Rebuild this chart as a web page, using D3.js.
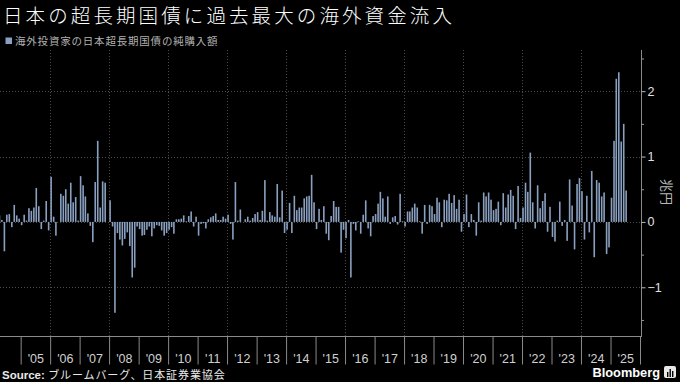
<!DOCTYPE html>
<html>
<head>
<meta charset="utf-8">
<script src="https://cdn.jsdelivr.net/npm/d3@7"></script>
<style>
  html, body { margin: 0; padding: 0; background: #000; }
  svg { display: block; }
</style>
</head>
<body>
<svg id="chart" width="680" height="382"></svg>
<script>
// ---- data: monthly net purchases of super-long JGBs by foreign investors (trillion yen)
const firstMonth = [2004, 3]; // April 2004 (month is 0-based)
const netPurchases = [
  /*2004 Apr-Dec*/ 0.1, 0.03, -0.45, 0.11, 0.12, -0.08, 0.26, 0.1, 0.05,
  /*2005*/ -0.05, 0.11, 0.02, 0.21, 0.17, 0.22, 0.52, 0.24, -0.11, 0.02, 0.32, -0.13,
  /*2006*/ 0.69, 0.08, -0.21, 0, 0.43, 0.40, 0.5, 0.28, 0.6, 0.3, 0.38, 0.02,
  /*2007*/ 0.7, 0.56, 0.39, 0.13, -0.06, -0.31, 0.61, 1.24, 0.22, 0.62, 0.6, 0,
  /*2008*/ 0.33, -0.07, -1.39, -0.17, -0.27, -0.36, -0.26, -0.16, -0.37, -0.85, -0.7, -0.07,
  /*2009*/ -0.11, -0.21, -0.2, -0.12, -0.07, -0.22, -0.1, -0.05, -0.06, -0.13, -0.21, -0.17,
  /*2010*/ -0.12, -0.08, -0.18, 0.04, 0.04, 0.05, 0.1, 0.01, 0.09, 0.16, -0.07, 0.08,
  /*2011*/ -0.21, -0.03, -0.02, -0.1, 0.04, 0.07, 0.09, 0.13, 0.03, 0.03, 0.08, 0.05,
  /*2012*/ 0.11, -0.03, -0.27, 0.61, 0.02, 0.19, 0, 0.04, 0.08, 0.02, 0.06, 0.12,
  /*2013*/ 0.15, 0.03, 0.17, 0.64, 0.02, 0.15, 0.1, 0.08, 0.58, 0.07, 0.48, -0.17,
  /*2014*/ -0.12, 0.29, -0.17, 0.4, 0.18, 0.22, 0.22, 0.36, 0.39, 0.4, 0.72, 0.3,
  /*2015*/ -0.11, 0.2, 0.03, 0.24, -0.18, -0.28, 0.09, 0.32, 0.23, 0.23, -0.47, -0.12,
  /*2016*/ -0.25, 0.03, -0.85, -0.03, -0.13, 0.01, -0.18, 0.11, 0.33, -0.1, -0.22, 0.09,
  /*2017*/ 0.12, 0.28, 0.46, 0.36, 0.08, 0.39, -0.03, 0.07, 0.09, -0.04, 0.43, 0.01,
  /*2018*/ -0.07, 0.16, 0.16, 0.22, 0.28, 0.22, 0.01, -0.18, 0.26, -0.03, 0.26, 0.24,
  /*2019*/ 0.12, 0.37, 0.3, -0.08, 0.34, 0.33, 0.43, 0.29, 0.41, 0.2, 0.34, -0.15,
  /*2020*/ 0.12, 0.42, -0.08, 0.12, 0.03, -0.21, 0.3, 0.02, 0.45, 0.39, 0.45, 0.34,
  /*2021*/ 0.18, 0.2, 0.31, -0.05, 0.44, 0.22, 0.42, 0.49, 0.4, -0.11, 0.55, 0.06,
  /*2022*/ 0.22, 0.6, 0.46, 1.06, 0.3, -0.1, 0.56, 0.21, 0.32, 0.44, -0.15, 0.23,
  /*2023*/ -0.23, -0.3, 0.02, 0.31, -0.06, 0.03, -0.29, 0.65, 0.25, -0.42, 0.58, 0.67,
  /*2024*/ 0.47, -0.27, 0.4, -0.16, 0.78, -0.54, 0.64, 0.6, 0.39, 0.45, -0.49, -0.39,
  /*2025*/ 0.37, 1.24, 2.19, 2.29, 1.23, 1.5, 0.48
];
const yearLabels = ["'05","'06","'07","'08","'09","'10","'11","'12","'13","'14","'15",
                    "'16","'17","'18","'19","'20","'21","'22","'23","'24","'25"];
const firstLabelYear = 2005;
const gridYears = [2006, 2008, 2010, 2012, 2014, 2016, 2018, 2020, 2022, 2024];
const yMajorTicks = [-1, 0, 1, 2];
const yMinorTicks = [-1.5, -0.5, 0.5, 1.5, 2.5];
const yDomain = [-1.73, 2.63];

const titleText = "日本の超長期国債に過去最大の海外資金流入";
const legendText = "海外投資家の日本超長期国債の純購入額";
const unitText = "兆円";
const sourceLabel = "Source:";
const sourceText = " ブルームバーグ、日本証券業協会";

// ---- layout
const svg = d3.select("#chart");
const W = 680, H = 382;
const plot = { left: 0, right: 640, top: 50, bottom: 335 };
const axisLineY = 336.5;
const barColor = "#8aa0c0";
const gridColor = "#4a4a4a";

svg.append("rect").attr("width", W).attr("height", H).attr("fill", "#000");

const x = d3.scaleUtc()
  .domain([new Date(Date.UTC(2004, 3, 20)), new Date(Date.UTC(2026, 0, 1))])
  .range([plot.left, plot.right]);
const y = d3.scaleLinear().domain(yDomain).range([plot.bottom, plot.top]);

const data = netPurchases.map((v, i) => ({
  date: new Date(Date.UTC(firstMonth[0], firstMonth[1] + i, 1)),
  value: v
}));

// gridlines
const grid = svg.append("g");
grid.selectAll("line.h").data(yMajorTicks).join("line")
  .attr("x1", plot.left).attr("x2", 641)
  .attr("y1", d => Math.round(y(d)) + 0.5).attr("y2", d => Math.round(y(d)) + 0.5)
  .attr("stroke", gridColor).attr("stroke-width", 1).attr("stroke-dasharray", "1,2");
grid.selectAll("line.v").data(gridYears).join("line")
  .attr("x1", d => Math.round(x(new Date(Date.UTC(d, 0, 1)))) + 0.5)
  .attr("x2", d => Math.round(x(new Date(Date.UTC(d, 0, 1)))) + 0.5)
  .attr("y1", plot.top).attr("y2", axisLineY)
  .attr("stroke", gridColor).attr("stroke-width", 1).attr("stroke-dasharray", "1,2");

// bars
const barW = 1.6;
svg.append("g").selectAll("rect").data(data).join("rect")
  .attr("x", d => x(d.date) + 0.2)
  .attr("width", barW)
  .attr("y", d => Math.min(y(d.value), y(0)))
  .attr("height", d => Math.abs(y(d.value) - y(0)))
  .attr("fill", barColor);

// x axis: baseline + year separators
svg.append("line")
  .attr("x1", 0).attr("x2", 642).attr("y1", axisLineY).attr("y2", axisLineY)
  .attr("stroke", "#8a8a8a").attr("stroke-width", 1);

const yearStarts = d3.range(firstLabelYear, firstLabelYear + yearLabels.length + 1)
  .map(yr => new Date(Date.UTC(yr, 0, 1)));
const xAxisSep = d3.axisBottom(x).tickValues(yearStarts).tickSize(28).tickFormat("").tickSizeOuter(0);
const gSep = svg.append("g").attr("transform", `translate(0,${axisLineY})`).call(xAxisSep);
gSep.select(".domain").remove();
gSep.selectAll(".tick line").attr("stroke", "#8a8a8a");

const midYears = yearLabels.map((_, i) => new Date(Date.UTC(firstLabelYear + i, 6, 2)));
const xAxisLab = d3.axisBottom(x).tickValues(midYears).tickSize(0)
  .tickFormat((d, i) => yearLabels[i]);
const gLab = svg.append("g").attr("transform", `translate(0,${axisLineY})`).call(xAxisLab);
gLab.select(".domain").remove();
gLab.selectAll(".tick text")
  .attr("y", 26.5).attr("dy", 0)
  .attr("fill", "#d0d0d0")
  .style("font-family", "'Liberation Sans', Arial, sans-serif")
  .style("font-size", "12.5px");

// right y axis
const axisX = 641.5;
svg.append("line")
  .attr("x1", axisX).attr("x2", axisX).attr("y1", plot.top).attr("y2", axisLineY)
  .attr("stroke", "#8a8a8a").attr("stroke-width", 1);
const yAxisMajor = d3.axisRight(y).tickValues(yMajorTicks).tickSize(4).tickSizeOuter(0)
  .tickFormat(d3.format("d"));
const gY = svg.append("g").attr("transform", `translate(${axisX},0)`).call(yAxisMajor);
gY.select(".domain").remove();
gY.selectAll(".tick line").attr("stroke", "#bbbbbb");
gY.selectAll(".tick text")
  .attr("x", 6)
  .attr("fill", "#e0e0e0")
  .style("font-family", "'Liberation Sans', Arial, sans-serif")
  .style("font-size", "12.5px");
const yAxisMinor = d3.axisRight(y).tickValues(yMinorTicks).tickSize(2.5).tickSizeOuter(0).tickFormat("");
const gYm = svg.append("g").attr("transform", `translate(${axisX},0)`).call(yAxisMinor);
gYm.select(".domain").remove();
gYm.selectAll(".tick line").attr("stroke", "#999");

// unit label
svg.append("text")
  .attr("transform", `translate(662,192) rotate(90)`)
  .attr("text-anchor", "middle")
  .attr("fill", "#b8b8b8")
  .style("font-family", "'Noto Sans CJK JP', sans-serif")
  .style("font-size", "13px")
  .text(unitText);

// title
svg.append("text")
  .attr("x", 3).attr("y", 22.7)
  .attr("fill", "#ffffff")
  .style("font-family", "'Noto Sans CJK JP', sans-serif")
  .style("font-size", "19.5px")
  .style("font-weight", "300")
  .style("letter-spacing", "3.1px")
  .text(titleText);

// legend
svg.append("rect").attr("x", 5.5).attr("y", 37.5).attr("width", 6.5).attr("height", 6.5)
  .attr("fill", barColor);
svg.append("text")
  .attr("x", 15).attr("y", 45)
  .attr("fill", "#b0b0b0")
  .style("font-family", "'Noto Sans CJK JP', sans-serif")
  .style("font-size", "10.5px")
  .style("letter-spacing", "0.8px")
  .text(legendText);

// source
const src = svg.append("text")
  .attr("x", 2).attr("y", 378.5)
  .attr("fill", "#e8e8e8")
  .style("font-size", "11.5px");
src.append("tspan")
  .style("font-family", "'Liberation Sans', Arial, sans-serif")
  .style("font-weight", "bold")
  .text(sourceLabel);
src.append("tspan")
  .style("font-family", "'Noto Sans CJK JP', sans-serif")
  .style("font-size", "11px")
  .style("letter-spacing", "0.9px")
  .text(sourceText);

// Bloomberg wordmark + logo
svg.append("text")
  .attr("x", 660).attr("y", 377)
  .attr("text-anchor", "end")
  .attr("fill", "#ffffff")
  .style("font-family", "'Liberation Sans', Arial, sans-serif")
  .style("font-weight", "bold")
  .style("font-size", "12.8px")
  .text("Bloomberg");
const logo = svg.append("g").attr("transform", "translate(664,366)");
logo.append("rect").attr("width", 12).attr("height", 12).attr("rx", 2).attr("fill", "#e8e8e8");
logo.selectAll("rect.b").data([[3, 6, 5], [5.5, 3, 8], [8, 5, 6]]).join("rect")
  .attr("x", d => d[0]).attr("y", d => d[1]).attr("width", 1.4).attr("height", d => d[2])
  .attr("fill", "#000");
</script>
</body>
</html>
